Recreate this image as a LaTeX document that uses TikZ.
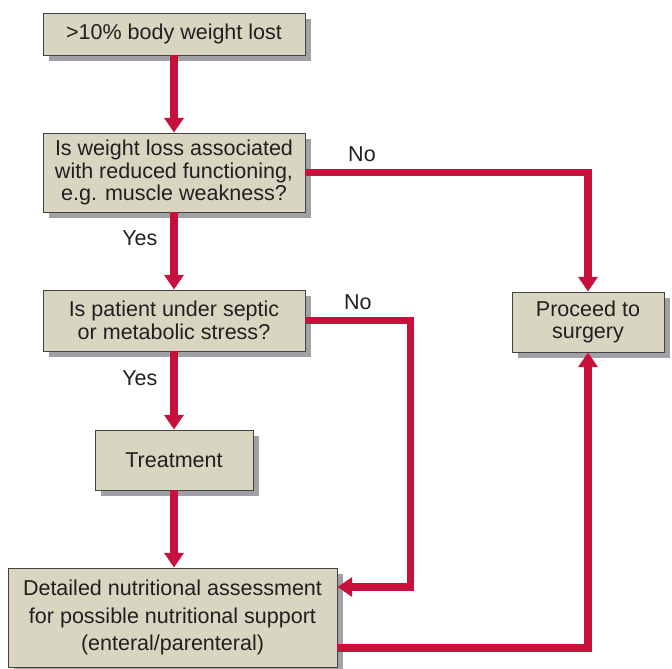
\documentclass[tikz,border=0pt]{standalone}
\usepackage{fontspec}
\setmainfont{Liberation Sans}
\usetikzlibrary{arrows.meta, positioning, shadows, calc}
\definecolor{boxcolor}{RGB}{216,214,193}
\definecolor{flowcolor}{RGB}{200,16,60}
\definecolor{shadowcolor}{RGB}{160,160,166}
\definecolor{inkcolor}{RGB}{35,31,32}

\begin{document}
\begin{tikzpicture}[
    x=0.025cm, y=-0.025cm,
    box/.style={rectangle, draw=inkcolor!85, line width=0.6pt, fill=boxcolor, align=center, text=inkcolor,
        inner sep=0pt, font=\fontsize{15.3}{16.2}\selectfont,
        drop shadow={shadow xshift=0.15cm, shadow yshift=-0.15cm, fill=shadowcolor, opacity=1}},
    flow/.style={line width=5pt, draw=flowcolor, -{Triangle[width=13.5pt, length=10.5pt]}},
    answer/.style={text=inkcolor, font=\fontsize{15.3}{16.2}\selectfont}
]
    \useasboundingbox (0,0) rectangle (672,669);

    % Boxes
    \node[box, minimum width=6.55cm, minimum height=1.05cm] (lost) at (174,34) {>10\% body weight lost};
    \node[box, minimum width=6.55cm, minimum height=1.975cm] (reduced) at (174,172.5)
        {Is weight loss associated\\with reduced functioning,\\e.g. muscle weakness?};
    \node[box, minimum width=6.55cm, minimum height=1.525cm] (stress) at (174,320.5)
        {Is patient under septic\\or metabolic stress?};
    \node[box, minimum width=3.8cm, minimum height=1.5cm] (surgery) at (588,322) {Proceed to\\surgery};
    \node[box, minimum width=3.95cm, minimum height=1.5cm] (treatment) at (174,460) {Treatment};
    \node[box, minimum width=8.225cm, minimum height=2.475cm, font=\fontsize{15.3}{19.8}\selectfont]
        (assess) at (172.5,617.5)
        {Detailed nutritional assessment\\for possible nutritional support\\(enteral/parenteral)};

    % Arrows
    \draw[flow] (lost) -- (reduced);
    \draw[flow] (reduced) -- node[answer, pos=0.33, left=6pt] {Yes} (stress);
    \draw[flow] (stress) -- node[answer, pos=0.34, left=6pt] {Yes} (treatment);
    \draw[flow] (treatment.south) -- (treatment.south |- assess.north);
    \draw[flow] (reduced.east) -| node[answer, pos=0.1, above=2pt] {No} (surgery.north);
    \draw[flow] (stress.east) -- node[answer, midway, above=2pt] {No} ++(105,0) |- ($(assess.east)+(0,-30.5)$);
    \draw[flow] ($(assess.east)+(0,30.5)$) -| (surgery.south);

\end{tikzpicture}
\end{document}
